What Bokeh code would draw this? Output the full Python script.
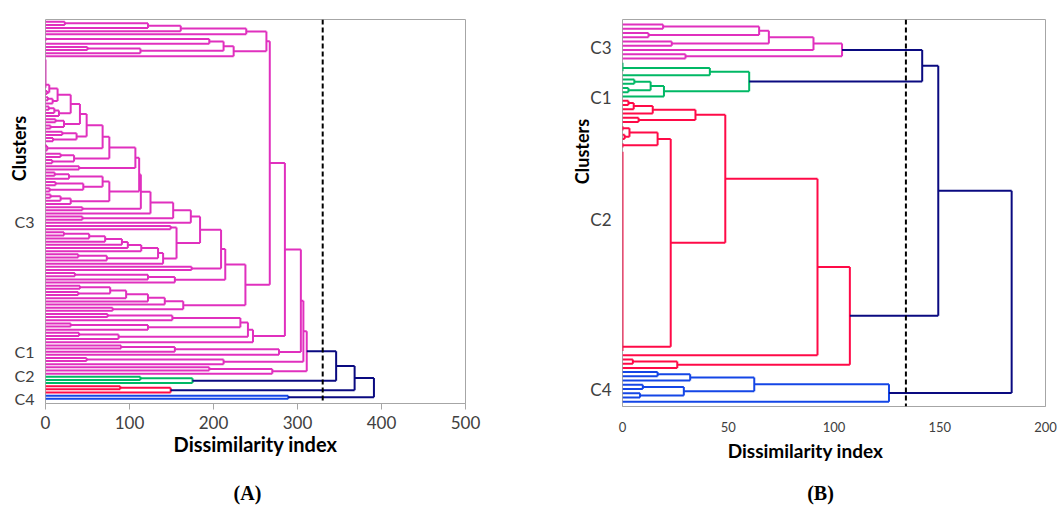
from bokeh.plotting import figure
from bokeh.models import ColumnDataSource, Range1d, FixedTicker, Span, Label
from bokeh.layouts import row
from bokeh.embed import file_html
from bokeh.resources import INLINE

# Trees are written as (merge height, upper child, lower child);
# a bare integer n stands for n samples joined at zero distance.

# ---------------- Panel A ----------------
a_top_upper = (239, (161, (122, (23, 1, 1), 1), 1), 1)
a_top_lower = (224, (212, (195, 2, 1), (113, (50, 1, 1), 1)), 1)
a_top = (263, a_top_upper, a_top_lower)

a_s0 = (14.4, (4.5, 10, (2, 1, 1)), (8.5, (3, 1, 1), 1))
a_s1 = (30, a_s0, (16, (10.5, (4, 1, 1), 1), 1))
a_s2 = (41, a_s1, (22, (12, 1, 1), (6, 1, 1)))
a_s3 = (49, a_s2, (37, (20, 1, 1), (9, 1, 1)))
a_s4 = (68, a_s3, (2, 2, 1))
a_s5 = (76, a_s4, (34, (18, 1, 1), (8, 1, 1)))
a_s6 = (107, a_s5, (40, 1, 1))
a_b2 = (76, (68, (28, (11, 1, 1), 1), (45, (12, 1, 1), (5, 1, 1))),
        (30, (18, (6, 1, 1), 1), 1))
a_s7 = (111.5, a_s6, a_b2)
a_s8 = (113.5, a_s7, (44, 1, 1))
a_s9 = (125, a_s8, 1)
a_s10 = (152, a_s9, (44, 1, 1))
a_p = (173, a_s10, 1)

a_chain = (114, (98, (91, (71, (52, (22, 1, 1), 1), 1), 1), 1), 1)
a_r = (140, (134, a_chain, (73, (39, 1, 1), 1)), 1)
a_q = (156, (149, 1, 1), a_r)
a_m1 = (214, (209, (184, a_p, a_q), (174, 1, 1)),
        (154, (122, (35, 1, 1), 1), 1))
a_m2 = (164, (142, (122, (96, (77, (41, 1, 1), (39, 1, 1)), 1), 1), 1), (80, 1, 1))
a_m = (238, a_m1, a_m2)
a_x = (247, (241, (232, (151, (74, 1, 1), 1), (122, (30, 1, 1), 1)),
             (87, (40, 1, 1), 1)), 1)
a_y = (278, (154, (90, 1, 1), 1), 1)
a_z = (212, (49, 1, 1), 1)
a_w = (270, (195, 1, 1), 1)

a_c3 = (311, (307, (304, (285, (267, a_top, a_m), a_x), a_y), a_z), a_w)
a_c1 = (175, (113, 1, 1), 1)
a_c2 = (149, (89, 1, 1), 1)
a_c4 = (289, 1, 1)
a_clusters = [a_c3, a_c1, a_c2, a_c4]
a_joins = [346, 368, 391]
a_cut = 330
a_ticks = [0, 100, 200, 300, 400, 500]
a_label_rows = [63.7, 105.1, 112.5, 119.8]
a_label_names = ["C3", "C1", "C2", "C4"]

# ---------------- Panel B ----------------
b_c3 = (103.8, (90.3, (69.2, (64.6, (19.2, 1, 1), (12.3, 1, 1)), (23.3, 1, 1)), 1),
        (29.8, 1, 1))
b_c1 = (59.9, (41.3, 3, 1), (19.6, (13.3, (5.6, 1, 1), (2.8, 1, 1)), 1))
b_c2_a = (34.5, (14.3, (5.3, (2.8, 1, 1), 1), 1), (7.6, 1, 1))
b_c2_b = (22.8, (16.6, (3.3, 2, (1.0, 1, 1)), 2), 48)
b_c2 = (107.5, (92.2, (48.6, b_c2_a, b_c2_b), 1), (25.9, (4.9, 1, 1), 1))
b_c4 = (126, (62.3, (32, (16.6, 1, 1), 1), (29, (9.6, 1, 1), (8.3, 1, 1))), 1)
b_clusters = [b_c3, b_c1, b_c2, b_c4]
b_joins = [141.7, 149.3, 184]
b_cut = 134
b_ticks = [0, 50, 100, 150, 200]
b_label_rows = [5.4, 17.2, 46.0, 86.1]
b_label_names = ["C3", "C1", "C2", "C4"]

MAGENTA = "#E030BE"
GREEN = "#00B865"
RED = "#FF0A47"
BLUE = "#1446E6"
NAVY = "#0A0A80"
cluster_colors = [MAGENTA, GREEN, RED, BLUE]
FONT = "Lato"


def place(node, color, first_row, segs):
    """Lay out a subtree from first_row down; returns (row position, height, rows used)."""
    if isinstance(node, int):
        y = float(first_row)
        for r in range(first_row + 1, first_row + node):
            y = (y + r) / 2.0
        if node > 1:
            segs.append((0.0, first_row, 0.0, first_row + node - 1, color))
        return y, 0.0, node
    h, upper, lower = node
    y1, h1, n1 = place(upper, color, first_row, segs)
    y2, h2, n2 = place(lower, color, first_row + n1, segs)
    segs.append((h1, y1, h, y1, color))
    segs.append((h2, y2, h, y2, color))
    segs.append((h, y1, h, y2, color))
    return (y1 + y2) / 2.0, h, n1 + n2


def dendrogram(clusters, joins):
    segs = []
    row0 = 0
    roots = []
    for tree, col in zip(clusters, cluster_colors):
        y, h, n = place(tree, col, row0, segs)
        roots.append((y, h))
        row0 += n
    y, h = roots[0]
    for (y2, h2), hj in zip(roots[1:], joins):
        segs.append((h, y, hj, y, NAVY))
        segs.append((h2, y2, hj, y2, NAVY))
        segs.append((hj, y, hj, y2, NAVY))
        y, h = (y + y2) / 2.0, hj
    src = ColumnDataSource(dict(
        x0=[s[0] for s in segs], y0=[s[1] for s in segs],
        x1=[s[2] for s in segs], y1=[s[3] for s in segs],
        c=[s[4] for s in segs]))
    return src, row0


def side_label(p, side, x, y, txt, size, style="bold", angle=0.0, font=FONT):
    # placed in a side panel; x, y are pixels from that panel's bottom-left corner
    p.add_layout(Label(x=x, y=y, x_units="screen", y_units="screen",
                       text=txt, angle=angle, text_align="center",
                       text_baseline="middle", text_font=font,
                       text_font_style=style, text_font_size=f"{size}px",
                       text_color="black"), side)


def panel(clusters, joins, cut, ticks, label_rows, label_names, xmax,
          fw, fh, left, right, top, bottom, pad_top, pad_bottom,
          tick_size, tick_out, tick_standoff, name_size, name_standoff,
          title=None, title_size=18, title_standoff=0):
    src, n = dendrogram(clusters, joins)
    p = figure(frame_width=fw, frame_height=fh,
               x_range=Range1d(0, xmax),
               y_range=Range1d(n - 1 + pad_bottom, -pad_top),
               min_border_left=left, min_border_right=right,
               min_border_top=top, min_border_bottom=bottom,
               output_backend="svg", toolbar_location=None,
               background_fill_color="white", border_fill_color="white")
    p.grid.visible = False
    p.outline_line_color = "#A6A6A6"
    p.outline_line_width = 1

    p.segment("x0", "y0", "x1", "y1", source=src, line_color="c", line_width=2)
    p.add_layout(Span(location=cut, dimension="height", line_color="black",
                      line_width=2, line_dash="5 3"))

    xa = p.xaxis[0]
    xa.ticker = FixedTicker(ticks=ticks)
    xa.axis_line_color = "#A6A6A6"
    xa.major_tick_line_color = "#A6A6A6"
    xa.major_tick_out = tick_out
    xa.major_tick_in = 0
    xa.minor_tick_line_color = None
    xa.major_label_text_font = FONT
    xa.major_label_text_font_size = f"{tick_size}px"
    xa.major_label_text_color = "#404040"
    xa.major_label_standoff = tick_standoff
    if title:
        xa.axis_label = title
        xa.axis_label_text_font = FONT
        xa.axis_label_text_font_style = "bold"
        xa.axis_label_text_font_size = f"{title_size}px"
        xa.axis_label_text_color = "black"
        xa.axis_label_standoff = title_standoff

    ya = p.yaxis[0]
    ya.ticker = FixedTicker(ticks=label_rows)
    ya.major_label_overrides = {r: t for r, t in zip(label_rows, label_names)}
    ya.axis_line_color = None
    ya.major_tick_line_color = None
    ya.minor_tick_line_color = None
    ya.major_label_text_font = FONT
    ya.major_label_text_font_size = f"{name_size}px"
    ya.major_label_text_color = "#404040"
    ya.major_label_standoff = name_standoff
    return p


pa = panel(a_clusters, a_joins, a_cut, a_ticks, a_label_rows, a_label_names, 500,
           fw=420, fh=384, left=45, right=100, top=15, bottom=109,
           pad_top=0.73, pad_bottom=1.5,
           tick_size=17, tick_out=6, tick_standoff=6, name_size=16, name_standoff=5,
           title="Dissimilarity index", title_size=20, title_standoff=0)
side_label(pa, "right", -447, 255, "Clusters", 18, angle=1.5707963)
side_label(pa, "below", 202, -12, "(A)", 20, font="Liberation Serif")

pb = panel(b_clusters, b_joins, b_cut, b_ticks, b_label_rows, b_label_names, 200,
           fw=423, fh=387, left=53, right=12, top=19, bottom=102,
           pad_top=1.18, pad_bottom=1.11,
           tick_size=13, tick_out=0, tick_standoff=15, name_size=17, name_standoff=5)
side_label(pb, "left", 16, 255, "Clusters", 18, angle=1.5707963)
side_label(pb, "below", 183, 7, "Dissimilarity index", 19)
side_label(pb, "below", 198, -13, "(B)", 20, font="Liberation Serif")

layout = row(pa, pb)
open("out.html", "w").write(file_html(layout, INLINE))
